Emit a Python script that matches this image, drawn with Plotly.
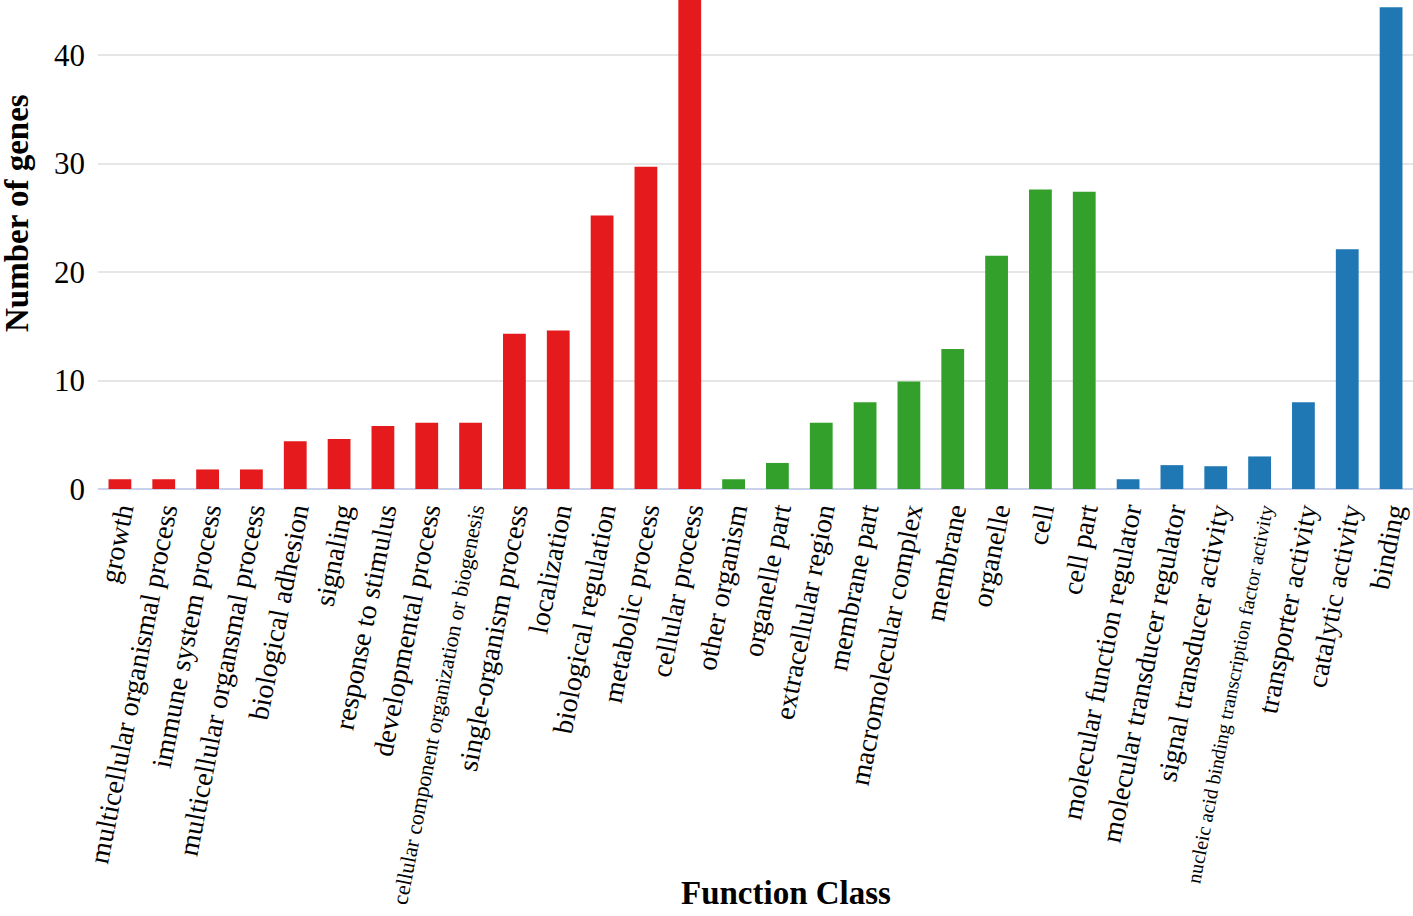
import plotly.graph_objects as go

BP_TERMS = [
    "growth", "multicellular organismal process", "immune system process",
    "multicellular organsmal process", "biological adhesion", "signaling",
    "response to stimulus", "developmental process",
    "cellular component organization or biogenesis", "single-organism process",
    "localization", "biological regulation", "metabolic process", "cellular process",
]
BP_COUNTS = [0.9, 0.9, 1.8, 1.8, 4.4, 4.6, 5.8, 6.1, 6.1, 14.3, 14.6, 25.2, 29.7, 47]

CC_TERMS = [
    "other organism", "organelle part", "extracellular region", "membrane part",
    "macromolecular complex", "membrane", "organelle", "cell", "cell part",
]
CC_COUNTS = [0.9, 2.4, 6.1, 8.0, 9.9, 12.9, 21.5, 27.6, 27.4]

MF_TERMS = [
    "molecular function regulator", "molecular transducer regulator",
    "signal transducer activity", "nucleic acid binding transcription factor activity",
    "transporter activity", "catalytic activity", "binding",
]
MF_COUNTS = [0.9, 2.2, 2.1, 3.0, 8.0, 22.1, 44.4]

# long labels drawn in a smaller font, as in the original
SMALL_LABELS = {
    "cellular component organization or biogenesis": 22,
    "nucleic acid binding transcription factor activity": 20,
}

COLORS = {"BP": "#E41A1C", "CC": "#33A02C", "MF": "#1F78B4"}
FONT = "Liberation Serif, Times New Roman, serif"

fig = go.Figure()
for key, terms, counts in [("BP", BP_TERMS, BP_COUNTS), ("CC", CC_TERMS, CC_COUNTS), ("MF", MF_TERMS, MF_COUNTS)]:
    fig.add_trace(go.Bar(x=terms, y=counts, marker=dict(color=COLORS[key], line=dict(width=0)),
                         name=key, showlegend=False))

all_terms = BP_TERMS + CC_TERMS + MF_TERMS
tick_text = [f"<span style='font-size:{SMALL_LABELS[t]}px'>{t}</span>" if t in SMALL_LABELS else t
             for t in all_terms]

fig.update_xaxes(
    type="category", tickvals=all_terms, ticktext=tick_text, tickangle=-79,
    tickfont=dict(family=FONT, size=28, color="black"), showgrid=False,
    showline=False, ticks="", ticklabelstandoff=0, automargin=False,
)
fig.update_yaxes(
    range=[0, 45.07], tickvals=[0, 10, 20, 30, 40],
    tickfont=dict(family=FONT, size=31, color="black"),
    showgrid=True, gridcolor="#e6e6e6", gridwidth=2,
    zeroline=True, zerolinecolor="#c9d2ea", zerolinewidth=2,
    ticklabelstandoff=12, automargin=False,
)
fig.update_layout(
    width=1413, height=916, bargap=0.48, barmode="group",
    plot_bgcolor="white", paper_bgcolor="white",
    margin=dict(l=98, r=0, t=0, b=427),
    font=dict(family=FONT, color="black"),
    annotations=[
        dict(text="<b>Number of genes</b>", xref="paper", yref="paper",
             x=(17 - 98) / 1315, y=(489 - 213) / 489, textangle=-90, showarrow=False,
             font=dict(family=FONT, size=33, color="black"), xanchor="center", yanchor="middle"),
        dict(text="<b>Function Class</b>", xref="paper", yref="paper",
             x=(786 - 98) / 1315, y=(489 - 893) / 489, showarrow=False,
             font=dict(family=FONT, size=33, color="black"), xanchor="center", yanchor="middle"),
    ],
)

# drop the page's default body margin so the figure sits at the window's corner
fig.write_html("out.html", config={"displayModeBar": False},
               post_script="document.body.style.margin = '0px';")
